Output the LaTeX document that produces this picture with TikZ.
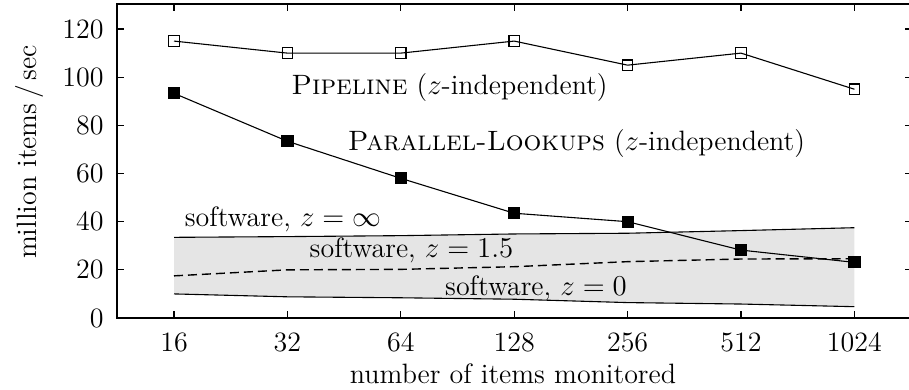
\documentclass[tikz,border=0pt]{standalone}
\definecolor{bandgray}{RGB}{229,229,229}
\begin{document}
\begin{tikzpicture}[x=0.5pt,y=-0.5pt,
  lbl/.style={font=\fontsize{14}{17}\selectfont, inner sep=0pt},
  framestyle/.style={line width=0.65pt},
  tickstyle/.style={line width=0.6pt},
  dataline/.style={line width=0.55pt},
  opensq/.style={draw, line width=0.55pt, minimum size=5.2pt, inner sep=0pt},
  fillsq/.style={draw, fill=black, line width=0.5pt, minimum size=5.6pt, inner sep=0pt},
  dashline/.style={line width=0.7pt, dash pattern=on 4.5pt off 2.5pt}]
\useasboundingbox (0,0) rectangle (909,390);

% frame
\draw[framestyle] (117,4) rectangle (912,318);

% x ticks and labels
\foreach \lab [count=\i from 0] in {16,32,64,128,256,512,1024}{
  \pgfmathsetmacro{\xx}{174+113.4*\i}
  \draw[tickstyle] (\xx,318) -- (\xx,311);
  \draw[tickstyle] (\xx,4) -- (\xx,11);
  \node[lbl, anchor=base] (xl\i) at (\xx,351.7) {\lab};
}
% y ticks and labels
\foreach \v in {0,20,40,60,80,100,120}{
  \pgfmathsetmacro{\yy}{318-2.408*\v}
  \draw[tickstyle] (117,\yy) -- (124,\yy);
  \draw[tickstyle] (912,\yy) -- (905,\yy);
  \node[lbl, anchor=east] (yl\v) at (104,\yy) {\v};
}

% axis titles
\node[lbl, anchor=base] (xtitle) at (513,383.3) {number of items monitored};
\node[lbl, anchor=base, rotate=90] (ytitle) at (36,152) {million items\,/\,sec};

\begin{scope}[shift={(87pt,-159pt)}, x=56.7pt, y=1.204pt]
  % software band
  \fill[bandgray] (0,33.5) -- (1,33.8) -- (2,34.2) -- (3,34.9) -- (4,35.2) -- (5,36.3) -- (6,37.5)
     -- (6,4.7) -- (5,5.8) -- (4,6.4) -- (3,7.8) -- (2,8.4) -- (1,8.8) -- (0,10) -- cycle;
  \draw[dataline] (0,33.5) -- (1,33.8) -- (2,34.2) -- (3,34.9) -- (4,35.2) -- (5,36.3) -- (6,37.5);
  \draw[dataline] (0,10) -- (1,8.8) -- (2,8.4) -- (3,7.8) -- (4,6.4) -- (5,5.8) -- (6,4.7);
  \draw[dashline] (0,17.5) -- (1,20) -- (2,20.2) -- (3,21.3) -- (4,23.4) -- (5,24.5) -- (6,24.6);

  % Pipeline
  \foreach \v [count=\i from 0] in {115,110,110,115,105,110,95}{
    \coordinate (p\i) at (\i,\v);
  }
  \draw[dataline] (p0) -- (p1) -- (p2) -- (p3) -- (p4) -- (p5) -- (p6);
  \foreach \i in {0,...,6}{ \node[opensq] (ps\i) at (p\i) {}; }

  % Parallel-Lookups
  \foreach \v [count=\i from 0] in {93.3,73.4,58,43.5,40,28.2,23.1}{
    \coordinate (q\i) at (\i,\v);
  }
  \draw[dataline] (q0) -- (q1) -- (q2) -- (q3) -- (q4) -- (q5) -- (q6);
  \foreach \i in {0,...,6}{ \node[fillsq] (qs\i) at (q\i) {}; }
\end{scope}

% curve labels
\node[lbl, anchor=base] (pipe) at (449.5,94.3) {\textsc{Pipeline} ($z$-independent)};
\node[lbl, anchor=base] (para) at (576.5,150.7) {\textsc{Parallel-Lookups} ($z$-independent)};
\node[lbl, anchor=base] (sinf) at (283,226.7) {software, $z=\infty$};
\node[lbl, anchor=base] (sone) at (411.5,257.5) {software, $z=1.5$};
\node[lbl, anchor=base] (szero) at (536,295) {software, $z=0$};
\end{tikzpicture}
\end{document}
